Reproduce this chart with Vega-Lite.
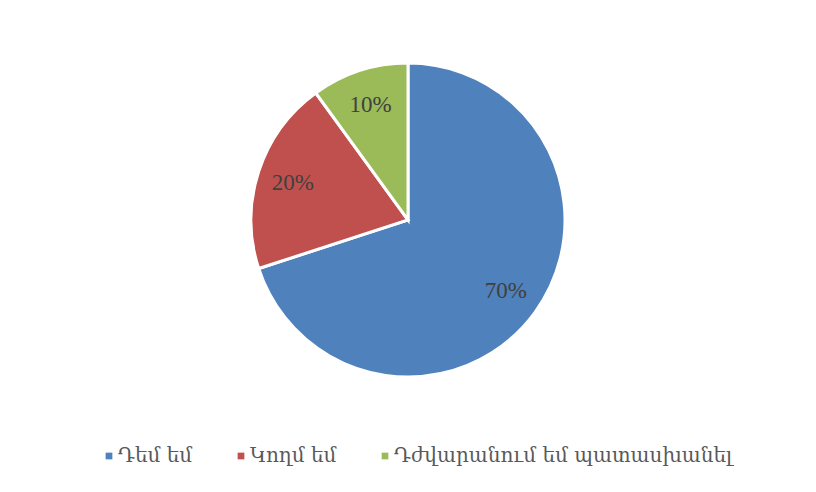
{
  "$schema": "https://vega.github.io/schema/vega-lite/v6.json",
  "width": 816,
  "height": 440,
  "autosize": {"type": "none"},
  "padding": {"left": 0, "top": 0, "right": 0, "bottom": 52},
  "background": "white",
  "config": {"view": {"stroke": null}},
  "data": {
    "values": [
      {"answer": "Դեմ եմ", "share": 70, "order": 1, "label": "70%"},
      {"answer": "Կողմ եմ", "share": 20, "order": 2, "label": "20%"},
      {"answer": "Դժվարանում եմ պատասխանել", "share": 10, "order": 3, "label": "10%"}
    ]
  },
  "encoding": {
    "theta": {"field": "share", "type": "quantitative", "stack": true},
    "order": {"field": "order", "type": "quantitative"},
    "color": {
      "field": "answer",
      "type": "nominal",
      "sort": ["Դեմ եմ", "Կողմ եմ", "Դժվարանում եմ պատասխանել"],
      "scale": {
        "domain": ["Դեմ եմ", "Կողմ եմ", "Դժվարանում եմ պատասխանել"],
        "range": ["#4F81BD", "#C0504D", "#9BBB59"]
      },
      "legend": {
        "title": null,
        "orient": "none",
        "direction": "horizontal",
        "legendX": 99,
        "legendY": 446,
        "symbolType": "square",
        "symbolSize": 45,
        "symbolStrokeWidth": 0,
        "labelFont": "DejaVu Serif",
        "labelFontSize": 20,
        "labelColor": "#595959",
        "labelOffset": -1,
        "labelLimit": 0,
        "columnPadding": 38
      }
    }
  },
  "layer": [
    {
      "mark": {"type": "arc", "outerRadius": 157, "stroke": "white", "strokeWidth": 3}
    },
    {
      "mark": {"type": "text", "radius": 121, "font": "Liberation Serif", "fontSize": 23, "fill": "#404040"},
      "encoding": {
        "text": {"field": "label"},
        "color": {"value": "#404040"}
      }
    }
  ]
}
